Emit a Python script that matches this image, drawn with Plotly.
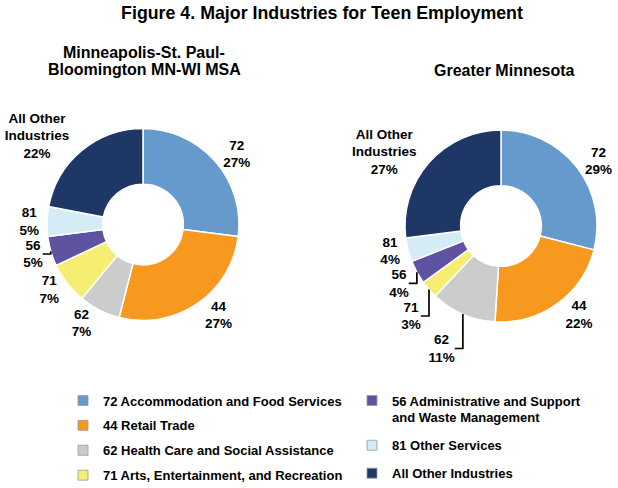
import plotly.graph_objects as go

# ---- data ----
codes = ["72", "44", "62", "71", "56", "81", "All Other<br>Industries"]
legend_names = [
    "72 Accommodation and Food Services",
    "44 Retail Trade",
    "62 Health Care and Social Assistance",
    "71 Arts, Entertainment, and Recreation",
    "56 Administrative and Support<br>and Waste Management",
    "81 Other Services",
    "All Other Industries",
]
msa_share = [27, 27, 7, 7, 5, 5, 22]
greater_mn_share = [29, 22, 11, 3, 4, 4, 27]
colors = ["#6699CC", "#F7991E", "#CCCCCC", "#F5EE70", "#5F52A0", "#D4ECF5", "#1E3766"]

title_text = "Figure 4. Major Industries for Teen Employment"
left_title_lines = ["Minneapolis-St. Paul-", "Bloomington MN-WI MSA"]
right_title = "Greater Minnesota"

W, H = 618, 488
FONT = "Liberation Sans, Arial, Helvetica, sans-serif"


def dom(cx, cy, r):
    return dict(x=[(cx - r) / W, (cx + r) / W], y=[(H - cy - r) / H, (H - cy + r) / H])


fig = go.Figure()

for vals, d in [(msa_share, dom(143, 224.5, 96)), (greater_mn_share, dom(501, 226, 96))]:
    fig.add_trace(go.Pie(
        values=vals,
        labels=legend_names,
        text=codes,
        texttemplate="%{text}<br>%{percent:.0%}",
        textposition="outside",
        textfont=dict(family=FONT, size=13.5, color="black", weight="bold"),
        marker=dict(colors=colors, line=dict(color="white", width=1.5)),
        hole=0.42,
        sort=False,
        direction="clockwise",
        rotation=0,
        domain=d,
        showlegend=False,
        hoverinfo="label+percent",
    ))

# legend entries (two columns)
for i, (name, c) in enumerate(zip(legend_names, colors)):
    fig.add_trace(go.Scatter(
        x=[None], y=[None], mode="markers", name=name,
        marker=dict(symbol="square", size=10, color=c, line=dict(color="#9a9a9a", width=0.8)),
        legend="legend" if i < 4 else "legend2",
        legendgroup="g%d" % i,
        hoverinfo="skip",
    ))

legend_font = dict(family=FONT, size=13, color="black", weight="bold")
sub_font = dict(family=FONT, size=16, weight="bold", color="black")
fig.update_layout(
    width=W, height=H,
    margin=dict(l=0, r=0, t=0, b=0, autoexpand=False),
    paper_bgcolor="white", plot_bgcolor="white",
    font=dict(family=FONT, color="black"),
    title=dict(text=title_text, x=322 / W, xanchor="center", y=1 - 13 / H, yanchor="middle",
               yref="container", font=dict(family=FONT, size=17.8, weight="bold", color="black")),
    xaxis=dict(visible=False), yaxis=dict(visible=False),
    legend=dict(x=(83 - 20) / W, xanchor="left", y=1 - 385.5 / H, yanchor="top",
                font=legend_font, bgcolor="rgba(0,0,0,0)", valign="top", tracegroupgap=5),
    legend2=dict(x=(372 - 20) / W, xanchor="left", y=1 - 385.5 / H, yanchor="top",
                 font=legend_font, bgcolor="rgba(0,0,0,0)", valign="top", tracegroupgap=8),
    annotations=[
        dict(text=left_title_lines[0], x=144 / W, y=1 - 52 / H, xref="paper", yref="paper",
             showarrow=False, xanchor="center", yanchor="middle", font=sub_font),
        dict(text=left_title_lines[1], x=144 / W, y=1 - 69 / H, xref="paper", yref="paper",
             showarrow=False, xanchor="center", yanchor="middle", font=sub_font),
        dict(text=right_title, x=504 / W, y=1 - 71 / H, xref="paper", yref="paper",
             showarrow=False, xanchor="center", yanchor="middle", font=sub_font),
    ],
)

fig.write_html("out.html", config={"displayModeBar": False},
               post_script="document.body.style.margin='0';")
